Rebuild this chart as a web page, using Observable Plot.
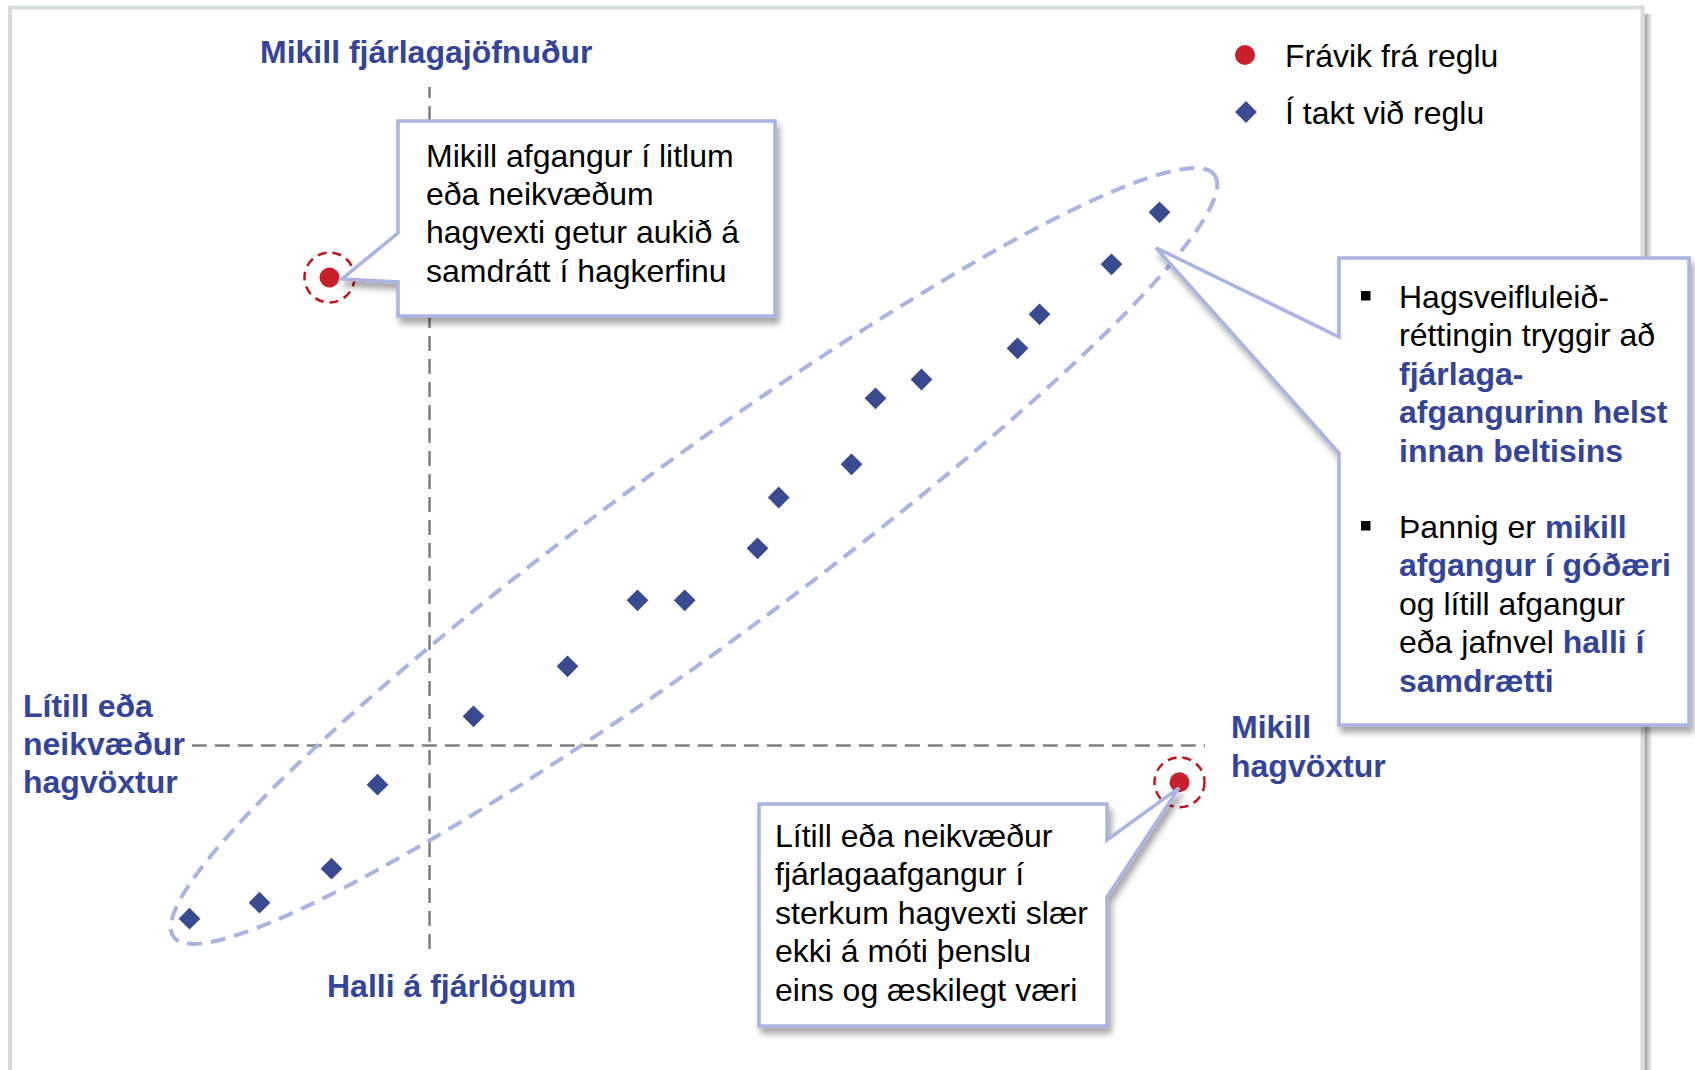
<!DOCTYPE html>
<html>
<head>
<meta charset="utf-8">
<script src="https://cdn.jsdelivr.net/npm/d3@7"></script>
<script src="https://cdn.jsdelivr.net/npm/@observablehq/plot@0.6"></script>
<style>
  html, body { margin: 0; padding: 0; background: #fff; overflow: hidden; }
  #chart svg { display: block; }
</style>
</head>
<body>
<div id="chart"></div>
<script>
// ---- Data (chart units: origin = crossing of the two dashed axes) ----
const inRuleX = [-6.0, -4.25, -2.45, -1.3, 1.1, 3.45, 5.2, 6.38, 8.2, 8.73, 10.55, 11.15, 12.3, 14.7, 15.25, 17.05, 18.25];
const inRuleY = [-4.33, -3.93, -3.08, -0.98, 0.73, 1.98, 3.63, 3.63, 4.93, 6.2, 7.03, 8.68, 9.15, 9.93, 10.78, 12.03, 13.33];
const outX = [-2.5, 18.75];
const outY = [11.7, -0.92];
const seriesNames = ["Frávik frá reglu", "Í takt við reglu"];

// axis extents (chart units)
const vAxisY = [-5.1, 16.45];
const hAxisX = [-5.93, 19.4];
// band (ellipse) in chart units: centre, semi-axes, tilt (degrees)
const bandCentre = [6.625, 4.725];
const bandAxes = [16.125, 2.275];
const bandTilt = 36.2;

// Text
const labelTop = "Mikill fjárlagajöfnuður";
const labelBottom = "Halli á fjárlögum";
const labelLeft = ["Lítill eða", "neikvæður", "hagvöxtur"];
const labelRight = ["Mikill", "hagvöxtur"];
const box1Lines = ["Mikill afgangur í litlum", "eða neikvæðum", "hagvexti getur aukið á", "samdrátt í hagkerfinu"];
const box2Lines = ["Lítill eða neikvæður", "fjárlagaafgangur í", "sterkum hagvexti slær", "ekki á móti þenslu", "eins og æskilegt væri"];
const box3Bullets = [
  [[["Hagsveifluleið-", false]], [["réttingin tryggir að", false]], [["fjárlaga-", true]], [["afgangurinn helst", true]], [["innan beltisins", true]]],
  [[["Þannig er ", false], ["mikill", true]], [["afgangur í góðæri", true]], [["og lítill afgangur", false]], [["eða jafnvel ", false], ["halli í", true]], [["samdrætti", true]]]
];

// ---- Styles ----
const FONT = "'Liberation Sans', Arial, Helvetica, sans-serif";
const FS = 32;
const BLUE_TEXT = "#34449A";
const DIAMOND = "#3A4A90";
const RED = "#C8202B";
const RED_RING = "#C0141E";
const LAV = "#A9B4E0";
const AXIS = "#7F7F7F";

const inRule = inRuleX.map((x, i) => ({x, y: inRuleY[i]}));
const outliers = outX.map((x, i) => ({x, y: outY[i]}));

function frame() {
  const g = d3.create("svg:g");
  const defs = g.append("defs");
  const grad = defs.append("linearGradient").attr("id", "fshadow").attr("x1", 0).attr("x2", 1).attr("y1", 0).attr("y2", 0);
  grad.append("stop").attr("offset", 0).attr("stop-color", "#9c9c9c");
  grad.append("stop").attr("offset", 1).attr("stop-color", "#ffffff");
  g.append("rect").attr("x", 1644.5).attr("y", 14).attr("width", 8).attr("height", 1100).attr("fill", "url(#fshadow)");
  g.append("rect").attr("x", 10).attr("y", 7.5).attr("width", 1632.5).attr("height", 1120)
    .attr("fill", "#fff").attr("stroke", "#D6DCDC").attr("stroke-width", 4);
  return g.node();
}

function band(index, scales) {
  const {x, y} = scales;
  const cx = x(bandCentre[0]), cy = y(bandCentre[1]);
  const rx = x(bandAxes[0]) - x(0), ry = y(0) - y(bandAxes[1]);
  const g = d3.create("svg:g");
  g.append("ellipse").attr("cx", cx).attr("cy", cy).attr("rx", rx).attr("ry", ry)
    .attr("transform", `rotate(${-bandTilt},${cx},${cy})`)
    .attr("fill", "none").attr("stroke", LAV).attr("stroke-width", 4).attr("stroke-dasharray", "15,9");
  return g.node();
}

function annotations(index, scales) {
  const {x, y} = scales;
  const g = d3.create("svg:g").attr("font-family", FONT).attr("font-size", FS).attr("text-anchor", "start");
  const defs = g.append("defs");
  const f = defs.append("filter").attr("id", "bshadow").attr("x", "-10%").attr("y", "-10%").attr("width", "130%").attr("height", "130%");
  f.append("feDropShadow").attr("dx", 3).attr("dy", 6).attr("stdDeviation", 3).attr("flood-color", "#000").attr("flood-opacity", 0.35);

  const boxStyle = sel => sel.attr("fill", "#fff").attr("stroke", LAV).attr("stroke-width", 3.5)
    .attr("stroke-linejoin", "miter").attr("filter", "url(#bshadow)");

  // Box 1 pointing at first outlier
  const t1 = [x(outX[0]) + 13, y(outY[0]) + 2];
  boxStyle(g.append("path").attr("d",
    `M398,121 L775,121 L775,316 L398,316 L398,282 L${t1[0]},${t1[1]} L398,233 Z`));
  const tx1 = g.append("text").attr("fill", "#000");
  box1Lines.forEach((s, i) => tx1.append("tspan").attr("x", 426).attr("y", 167 + i * 38.2).text(s));

  // Box 2 pointing at second outlier
  const t2 = [x(outX[1]), y(outY[1]) + 6];
  boxStyle(g.append("path").attr("d",
    `M759,804 L1107,804 L1107,840 L${t2[0]},${t2[1]} L1107,897 L1107,1026 L759,1026 Z`));
  const tx2 = g.append("text").attr("fill", "#000");
  box2Lines.forEach((s, i) => tx2.append("tspan").attr("x", 775).attr("y", 847 + i * 38.4).text(s));

  // Box 3 pointing into the band's upper end
  const last = inRule[inRule.length - 1];
  const t3 = [x(last.x) - 3, y(last.y) + 36];
  boxStyle(g.append("path").attr("d",
    `M1339,258 L1689,258 L1689,725 L1339,725 L1339,453 L${t3[0]},${t3[1]} L1339,337 Z`));
  const starts = [308, 538];
  box3Bullets.forEach((lines, b) => {
    g.append("rect").attr("x", 1361).attr("y", starts[b] - 17).attr("width", 9.5).attr("height", 9.5).attr("fill", "#000");
    lines.forEach((parts, i) => {
      const t = g.append("text").attr("x", 1399).attr("y", starts[b] + i * 38.4);
      parts.forEach(([s, bold]) => t.append("tspan")
        .attr("font-weight", bold ? "bold" : "normal")
        .attr("fill", bold ? BLUE_TEXT : "#000").text(s));
    });
  });

  // Quadrant labels
  const lab = g.append("g").attr("font-weight", "bold").attr("fill", BLUE_TEXT);
  lab.append("text").attr("x", 260).attr("y", 63).text(labelTop);
  lab.append("text").attr("x", 327).attr("y", 997).text(labelBottom);
  labelLeft.forEach((s, i) => lab.append("text").attr("x", 23).attr("y", 717 + i * 38.2).text(s));
  labelRight.forEach((s, i) => lab.append("text").attr("x", 1231).attr("y", 738 + i * 39).text(s));

  // Legend
  g.append("circle").attr("cx", 1245).attr("cy", 55).attr("r", 10).attr("fill", RED);
  g.append("path").attr("transform", "translate(1246,112)")
    .attr("d", d3.symbol(d3.symbolDiamond2, Math.PI * 9.8 * 9.8)()).attr("fill", DIAMOND);
  g.append("text").attr("x", 1285).attr("y", 67).text(seriesNames[0]);
  g.append("text").attr("x", 1285).attr("y", 124).text(seriesNames[1]);
  return g.node();
}

const plot = Plot.plot({
  width: 1695,
  height: 1070,
  x: {domain: [-10, 30], range: [29, 1629], axis: null},
  y: {domain: [-7, 18], range: [1025, 25], axis: null},
  style: {background: "#fff", fontFamily: FONT, overflow: "visible"},
  marks: [
    frame,
    Plot.ruleX([0], {y1: vAxisY[0], y2: vAxisY[1], stroke: AXIS, strokeWidth: 2.5, strokeDasharray: "15,8"}),
    Plot.ruleY([0], {x1: hAxisX[0], x2: hAxisX[1], stroke: AXIS, strokeWidth: 2.5, strokeDasharray: "15,8"}),
    band,
    Plot.dot(inRule, {x: "x", y: "y", symbol: "diamond2", r: 9.8, fill: DIAMOND}),
    Plot.dot(outliers, {x: "x", y: "y", r: 25, fill: "none", stroke: RED_RING, strokeWidth: 2.5, strokeDasharray: "9,6"}),
    Plot.dot(outliers, {x: "x", y: "y", r: 10, fill: RED}),
    annotations
  ]
});
document.getElementById("chart").appendChild(plot);
</script>
</body>
</html>
